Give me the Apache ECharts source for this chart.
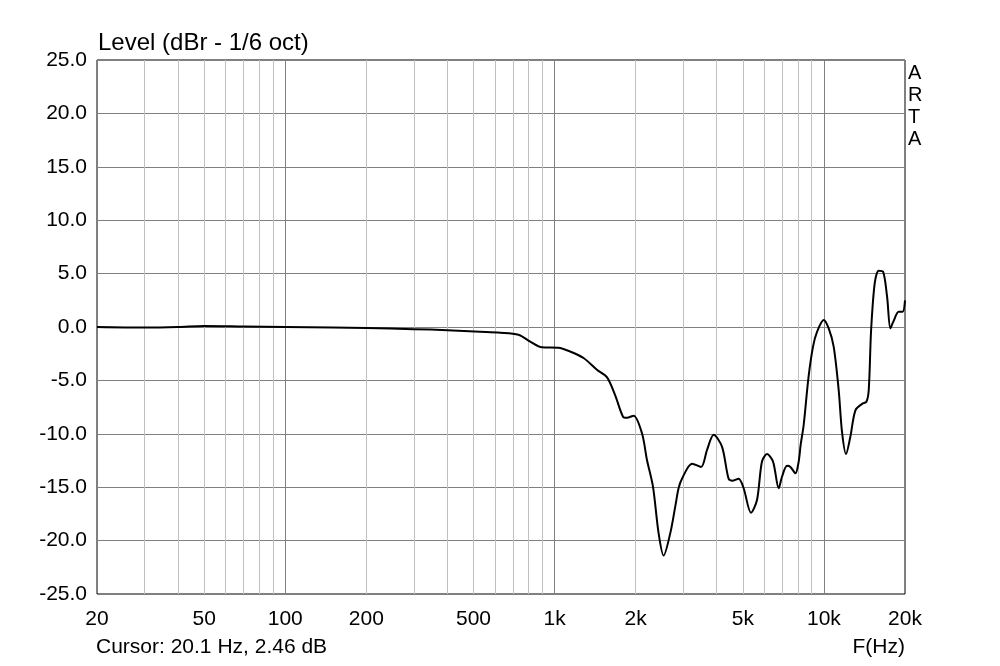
<!DOCTYPE html>
<html>
<head>
<meta charset="utf-8">
<script src="https://cdn.jsdelivr.net/npm/echarts@6/dist/echarts.min.js"></script>
<style>
  html, body { margin: 0; padding: 0; background: #fff; }
  #chart { width: 1000px; height: 666px; }
</style>
</head>
<body>
<div id="chart"></div>
<script>
// frequency response
var freqHz = [20, 30, 40, 50, 70, 100, 150, 200, 300, 400, 529, 628, 734, 812, 897,
  1034, 1143, 1281, 1436, 1564, 1679, 1795, 1856, 1965, 2111, 2203, 2319, 2433, 2540,
  2689, 2806, 2886, 2972, 3239, 3497, 3682, 3896, 4183, 4426, 4565, 4823, 5034, 5362,
  5643, 5889, 6149, 6472, 6794, 6991, 7296, 7511, 7838, 8059, 8200, 8408, 8771, 9111,
  9433, 9978, 10417, 10870, 11345, 11670, 12080, 12530, 13090, 13860, 14380, 14670,
  14970, 15440, 15970, 16580, 17160, 17650, 18100, 18950, 19600, 20000];
var levelDb = [0.0, -0.05, 0.0, 0.1, 0.05, 0.0, -0.05, -0.1, -0.2, -0.3, -0.44, -0.53, -0.72, -1.37, -1.9,
  -1.94, -2.3, -2.9, -4.0, -4.7, -6.4, -8.4, -8.5, -8.3, -9.95, -12.45, -14.95, -19.3, -21.4,
  -19.3, -16.8, -15.1, -14.2, -12.8, -13.1, -11.5, -10.1, -11.2, -14.2, -14.4, -14.2, -15.1, -17.4,
  -16.2, -12.6, -11.9, -12.6, -15.1, -14.0, -13.0, -13.1, -13.7, -12.6, -11.0, -9.2, -4.65, -1.84,
  -0.44, 0.66, -0.13, -1.84, -5.9, -9.8, -11.9, -10.3, -7.8, -7.2, -7.0, -5.9,
  -0.28, 4.1, 5.27, 5.18, 2.84, -0.13, 0.5, 1.43, 1.43, 2.5];

// x tick labels and grid lines
var xTickValues = [20, 50, 100, 200, 500, 1000, 2000, 5000, 10000, 20000];
var xTickLabels = ['20', '50', '100', '200', '500', '1k', '2k', '5k', '10k', '20k'];
var decadeLines = [100, 1000, 10000];
var minorLines = [30, 40, 50, 60, 70, 80, 90, 200, 300, 400, 500, 600, 700, 800, 900,
  2000, 3000, 4000, 5000, 6000, 7000, 8000, 9000];

var FONT = '"Liberation Sans", Arial, sans-serif';

var gridLines = [];
minorLines.forEach(function (f) {
  gridLines.push({ xAxis: f, lineStyle: { color: '#c0c0c0' }, label: { show: false } });
});
decadeLines.forEach(function (f) {
  gridLines.push({ xAxis: f, lineStyle: { color: '#808080' }, label: { show: false } });
});
xTickValues.forEach(function (f, i) {
  gridLines.push({
    name: xTickLabels[i],
    xAxis: f,
    lineStyle: { width: 0 },
    label: { show: true }
  });
});

var curve = freqHz.map(function (f, i) { return [f, levelDb[i]]; });

var myChart = echarts.init(document.getElementById('chart'));
myChart.setOption({
  animation: false,
  backgroundColor: '#fff',
  grid: {
    left: 97, right: 95, top: 60, bottom: 72,
    show: true,
    borderColor: '#000',
    borderWidth: 1,
    backgroundColor: 'transparent'
  },
  xAxis: {
    type: 'log',
    logBase: 10,
    min: 20,
    max: 20000,
    axisLine: { show: false },
    axisTick: { show: false },
    axisLabel: { show: false },
    splitLine: { show: false }
  },
  yAxis: {
    type: 'value',
    min: -25,
    max: 25,
    interval: 5,
    axisLine: { show: false },
    axisTick: { show: false },
    axisLabel: {
      color: '#000',
      fontFamily: FONT,
      fontSize: 21,
      margin: 10,
      formatter: function (v) { return v.toFixed(1); }
    },
    splitLine: { lineStyle: { color: '#808080', width: 1 } }
  },
  graphic: [
    { type: 'text', left: 98, top: 31, style: { text: 'Level (dBr - 1/6 oct)', fontFamily: FONT, fontSize: 24, fill: '#000' } },
    { type: 'text', left: 96, top: 637, style: { text: 'Cursor: 20.1 Hz, 2.46 dB', fontFamily: FONT, fontSize: 21, fill: '#000' } },
    { type: 'text', right: 95, top: 637, style: { text: 'F(Hz)', fontFamily: FONT, fontSize: 21, fill: '#000' } },
    { type: 'text', left: 908, top: 62, style: { text: 'A\nR\nT\nA', fontFamily: FONT, fontSize: 20, lineHeight: 22, fill: '#000' } }
  ],
  series: [
    {
      // carries only the grid lines and x tick labels
      type: 'line',
      data: [],
      z: 1,
      silent: true,
      markLine: {
        z: 1,
        silent: true,
        animation: false,
        symbol: ['none', 'none'],
        lineStyle: { type: 'solid', width: 1 },
        label: {
          position: 'start',
          distance: 15,
          formatter: '{b}',
          color: '#000',
          fontFamily: FONT,
          fontSize: 21
        },
        data: gridLines
      }
    },
    {
      type: 'line',
      data: curve,
      z: 3,
      smooth: 0.3,
      showSymbol: false,
      lineStyle: { color: '#000', width: 2 }
    }
  ]
});
</script>
</body>
</html>
